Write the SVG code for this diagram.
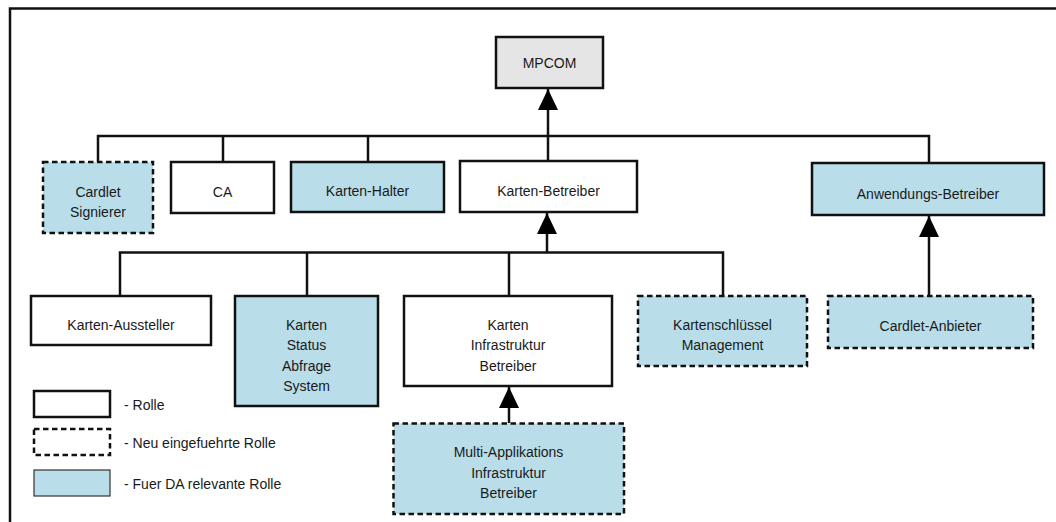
<svg xmlns="http://www.w3.org/2000/svg" width="1056" height="522" viewBox="0 0 1056 522">
  <defs>
    <style>
      .box { stroke: #111; stroke-width: 2.5; fill: #fff; }
      .new { stroke-dasharray: 5.5 3.5; }
      .rel { fill: #b9dde9; }
      .top { fill: #e5e5e5; }
      .lbl { font-family: "Liberation Sans", Arial, sans-serif; font-size: 14px; fill: #1a1a1a; text-anchor: middle; }
      .leg { font-family: "Liberation Sans", Arial, sans-serif; font-size: 14px; fill: #1a1a1a; }
      .wire { stroke: #111; stroke-width: 2.5; fill: none; }
    </style>
    <!-- filled triangular head, tip at the end of the path -->
    <marker id="arrow" viewBox="0 0 21 20" refX="21" refY="10" markerWidth="21" markerHeight="20" markerUnits="userSpaceOnUse" orient="auto">
      <path d="M0,0 L21,10 L0,20 Z" fill="#000"/>
    </marker>
  </defs>

  <rect width="1056" height="522" fill="#fff"/>

  <!-- frame: top and left edges -->
  <path d="M10,522 V8.5 H1056" stroke="#111" stroke-width="2.5" fill="none"/>

  <!-- connectors -->
  <g id="connectors">
    <!-- first level bus -->
    <path class="wire" d="M98,162 V136 H929 V163"/>
    <path class="wire" d="M223,136 V162"/>
    <path class="wire" d="M368,136 V162"/>
    <path class="wire" d="M548,161 V136"/>
    <path class="wire" d="M548,136 V89" marker-end="url(#arrow)"/>
    <!-- second level bus -->
    <path class="wire" d="M120,296 V252.5 H723 V296"/>
    <path class="wire" d="M307,252.5 V296"/>
    <path class="wire" d="M509,252.5 V296"/>
    <path class="wire" d="M547,252.5 V213" marker-end="url(#arrow)"/>
    <!-- single links -->
    <path class="wire" d="M929,296 V216" marker-end="url(#arrow)"/>
    <path class="wire" d="M509,423 V387" marker-end="url(#arrow)"/>
  </g>

  <g id="mpcom">
    <rect class="box top" x="496" y="37" width="107" height="51"/>
    <text class="lbl" x="549.5" y="67.5">MPCOM</text>
  </g>

  <g id="cardlet-signierer">
    <rect class="box rel new" x="43" y="162" width="110" height="71"/>
    <text class="lbl" x="98" y="197">Cardlet</text>
    <text class="lbl" x="98" y="217">Signierer</text>
  </g>

  <g id="ca">
    <rect class="box" x="171" y="162" width="103" height="51"/>
    <text class="lbl" x="222.5" y="197">CA</text>
  </g>

  <g id="karten-halter">
    <rect class="box rel" x="291" y="162" width="153" height="50"/>
    <text class="lbl" x="367.5" y="196">Karten-Halter</text>
  </g>

  <g id="karten-betreiber">
    <rect class="box" x="460" y="161" width="177" height="51"/>
    <text class="lbl" x="548.5" y="195.5">Karten-Betreiber</text>
  </g>

  <g id="anwendungs-betreiber">
    <rect class="box rel" x="812" y="163" width="232" height="52"/>
    <text class="lbl" x="928" y="198.5">Anwendungs-Betreiber</text>
  </g>

  <g id="karten-aussteller">
    <rect class="box" x="31" y="296" width="180" height="49"/>
    <text class="lbl" x="121" y="329.5">Karten-Aussteller</text>
  </g>

  <g id="karten-status-abfrage-system">
    <rect class="box rel" x="235" y="296" width="143" height="110"/>
    <text class="lbl" x="306.5" y="329.5">Karten</text>
    <text class="lbl" x="306.5" y="350">Status</text>
    <text class="lbl" x="306.5" y="370.5">Abfrage</text>
    <text class="lbl" x="306.5" y="391">System</text>
  </g>

  <g id="karten-infrastruktur-betreiber">
    <rect class="box" x="404" y="296" width="208" height="90"/>
    <text class="lbl" x="508" y="329.5">Karten</text>
    <text class="lbl" x="508" y="350">Infrastruktur</text>
    <text class="lbl" x="508" y="370.5">Betreiber</text>
  </g>

  <g id="kartenschluessel-management">
    <rect class="box rel new" x="638" y="296" width="169" height="70"/>
    <text class="lbl" x="722.5" y="329.5">Kartenschlüssel</text>
    <text class="lbl" x="722.5" y="350">Management</text>
  </g>

  <g id="cardlet-anbieter">
    <rect class="box rel new" x="828" y="296" width="205" height="52"/>
    <text class="lbl" x="930.5" y="331">Cardlet-Anbieter</text>
  </g>

  <g id="multi-applikations-infrastruktur-betreiber">
    <rect class="box rel new" x="393.5" y="423.5" width="230.5" height="90.5"/>
    <text class="lbl" x="508.5" y="457">Multi-Applikations</text>
    <text class="lbl" x="508.5" y="477.5">Infrastruktur</text>
    <text class="lbl" x="508.5" y="498">Betreiber</text>
  </g>

  <!-- key -->
  <g id="legend">
    <rect class="box" x="34" y="391" width="76" height="26"/>
    <text class="leg" x="124" y="409.5">- Rolle</text>
    <rect class="box new" x="34" y="429" width="76" height="26"/>
    <text class="leg" x="124" y="447.5">- Neu eingefuehrte Rolle</text>
    <rect x="34" y="470" width="76" height="26" fill="#b9dde9" stroke="#333" stroke-width="1.2"/>
    <text class="leg" x="124" y="489">- Fuer DA relevante Rolle</text>
  </g>
</svg>
